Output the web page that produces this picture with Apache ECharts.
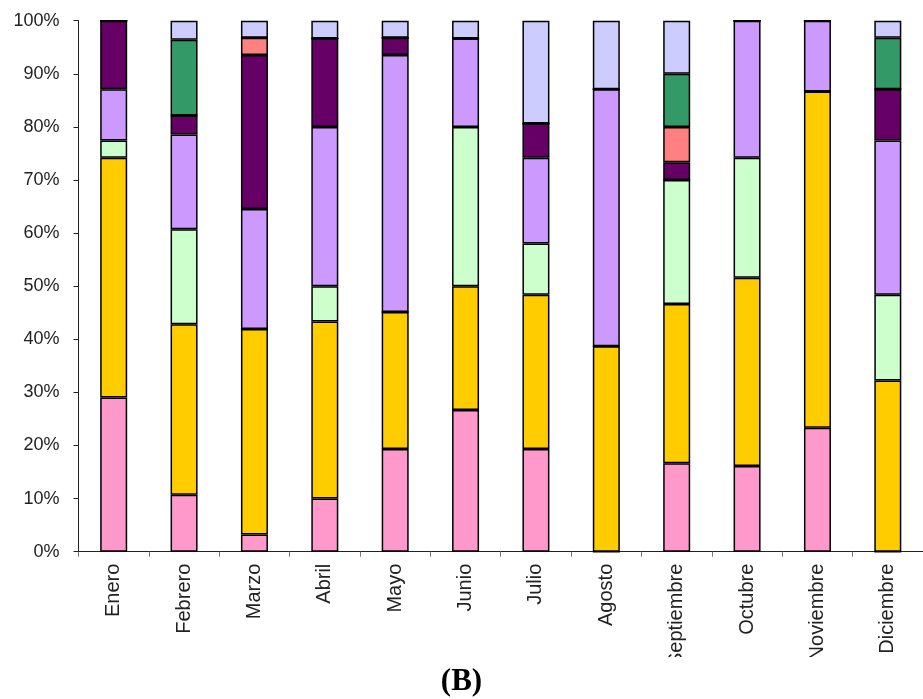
<!DOCTYPE html>
<html>
<head>
<meta charset="utf-8">
<script src="https://cdn.jsdelivr.net/npm/echarts@6/dist/echarts.min.js"></script>
<style>
  html, body { margin: 0; padding: 0; background: #fff; }
  #chart { width: 923px; height: 699px; }
</style>
</head>
<body>
<div id="chart"></div>
<script>
// Months on the category axis
const months = ['Enero', 'Febrero', 'Marzo', 'Abril', 'Mayo', 'Junio', 'Julio',
                'Agosto', 'Septiembre', 'Octubre', 'Noviembre', 'Diciembre'];

// Day counts per month for each class (stacked bottom to top)
const rosa       = [9, 3, 1, 3, 6, 8, 6, 0, 5, 5, 7, 0];
const amarillo   = [14, 9, 12, 10, 8, 7, 9, 12, 9, 11, 19, 10];
const verdeClaro = [1, 5, 0, 2, 0, 9, 3, 0, 7, 7, 0, 5];
const lila       = [3, 5, 7, 9, 15, 5, 5, 15, 0, 8, 4, 9];
const morado     = [4, 1, 9, 5, 1, 0, 2, 0, 1, 0, 0, 3];
const salmon     = [0, 0, 1, 0, 0, 0, 0, 0, 2, 0, 0, 0];
const verde      = [0, 4, 0, 0, 0, 0, 0, 0, 3, 0, 0, 3];
const azulClaro  = [0, 1, 1, 1, 1, 1, 6, 4, 3, 0, 0, 1];

// Y axis ticks (percent)
const yTicks = [0, 10, 20, 30, 40, 50, 60, 70, 80, 90, 100];

const layers = [
  { name: 'rosa', data: rosa, color: '#FF99CC' },
  { name: 'amarillo', data: amarillo, color: '#FFCC00' },
  { name: 'verdeClaro', data: verdeClaro, color: '#CCFFCC' },
  { name: 'lila', data: lila, color: '#CC99FF' },
  { name: 'morado', data: morado, color: '#660066' },
  { name: 'salmon', data: salmon, color: '#FF8080' },
  { name: 'verde', data: verde, color: '#339966' },
  { name: 'azulClaro', data: azulClaro, color: '#CCCCFF' }
];

// Monthly totals, used to express each class as a share of the month
const totals = months.map((_, i) => layers.reduce((s, l) => s + l.data[i], 0));

const chart = echarts.init(document.getElementById('chart'), null, { renderer: 'canvas' });

chart.setOption({
  animation: false,
  backgroundColor: '#ffffff',
  title: {
    text: '(B)',
    left: 'center',
    top: 661,
    textStyle: {
      fontFamily: 'Liberation Serif',
      fontWeight: 'bold',
      fontSize: 31,
      color: '#000'
    },
    z: 20
  },
  // the plot area ends just below the long month names
  graphic: [{
    type: 'rect',
    shape: { x: 0, y: 657, width: 923, height: 42 },
    style: { fill: '#ffffff' },
    z: 10,
    silent: true
  }],
  grid: {
    left: 78.5,
    top: 20.7,
    width: 852,
    height: 531
  },
  xAxis: {
    type: 'category',
    data: months,
    axisLine: { lineStyle: { color: '#222', width: 1 } },
    axisTick: { show: true, length: 5, lineStyle: { color: '#777' } },
    axisLabel: {
      rotate: 90,
      margin: 12,
      interval: 0,
      fontFamily: 'Liberation Sans',
      fontSize: 20,
      color: '#222'
    }
  },
  yAxis: {
    type: 'value',
    min: yTicks[0],
    max: yTicks[yTicks.length - 1],
    interval: yTicks[1] - yTicks[0],
    splitLine: { show: false },
    axisLine: { show: true, lineStyle: { color: '#222', width: 1 } },
    axisTick: { show: true, length: 5, lineStyle: { color: '#222' } },
    axisLabel: {
      formatter: '{value}%',
      margin: 19,
      fontFamily: 'Liberation Sans',
      fontSize: 18,
      color: '#222'
    }
  },
  series: layers.map(l => ({
    name: l.name,
    type: 'bar',
    stack: 'total',
    barWidth: 27,
    data: l.data.map((v, i) => v / totals[i] * 100),
    itemStyle: {
      color: l.color,
      borderColor: '#000',
      borderWidth: 1.5
    }
  }))
});
</script>
</body>
</html>
